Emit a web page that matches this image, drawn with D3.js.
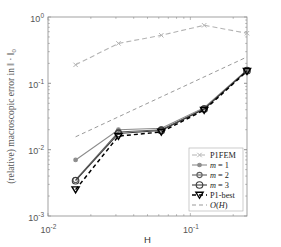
<!DOCTYPE html>
<html>
<head>
<meta charset="utf-8">
<script src="https://cdn.jsdelivr.net/npm/d3@7"></script>
<style>
  body { margin: 0; background: #fff; }
  svg { display: block; }
  .tick text { font-family: "Liberation Sans", Arial, sans-serif; }
</style>
</head>
<body>
<svg id="chart" width="281" height="247"></svg>
<script>
// mesh sizes
const H = [1 / 64, 1 / 32, 1 / 16, 1 / 8, 1 / 4];

// errors
const p1fem = [0.19, 0.40, 0.53, 0.75, 0.57];
const m1 = [0.0070, 0.0200, 0.0210, 0.0430, 0.160];
const m2 = [0.0035, 0.0185, 0.0200, 0.0415, 0.157];
const m3 = [0.0034, 0.0175, 0.0195, 0.0410, 0.155];
const p1best = [0.0025, 0.0160, 0.0185, 0.0395, 0.152];
const orderH = [1 / 64, 1 / 4];

const xTicks = [1e-2, 1e-1];
const yTicks = [1e-3, 1e-2, 1e-1, 1e0];

const series = [
  { name: 'P1FEM', tex: false, vals: p1fem, color: '#b3b3b3', dash: '5,3', width: 1.1, marker: 'x' },
  { name: 'm = 1', tex: true, vals: m1, color: '#8c8c8c', dash: null, width: 1.1, marker: 'circle', r: 1.8 },
  { name: 'm = 2', tex: true, vals: m2, color: '#5f5f5f', dash: null, width: 1.1, marker: 'circle', r: 2.6 },
  { name: 'm = 3', tex: true, vals: m3, color: '#3c3c3c', dash: null, width: 1.1, marker: 'circle', r: 3.3 },
  { name: 'P1-best', tex: false, vals: p1best, color: '#000', dash: '4,3', width: 1.5, marker: 'tri' }
];

const svg = d3.select('#chart');
const margin = { left: 48, right: 34, top: 17, bottom: 31 };
const w = 281 - margin.left - margin.right;
const h = 247 - margin.top - margin.bottom;

const x = d3.scaleLog().domain([0.01, 0.25]).range([0, w]);
const y = d3.scaleLog().domain([1e-3, 1]).range([h, 0]);

const g = svg.append('g').attr('transform', `translate(${margin.left},${margin.top})`);

// minor ticks, all four sides
const axisColor = '#8a8a8a';
const minorX = [];
for (let d = 0.01; d < 1; d *= 10) {
  for (let k = 1; k < 10; k++) {
    const v = d * k;
    if (v >= 0.01 && v <= 0.25) minorX.push(v);
  }
}
const minorY = [];
for (let d = 1e-3; d < 1; d *= 10) {
  for (let k = 1; k <= 10; k++) minorY.push(d * k);
}

function tickLine(sel, x1, y1, x2, y2) {
  sel.append('line').attr('x1', x1).attr('y1', y1).attr('x2', x2).attr('y2', y2)
    .attr('stroke', axisColor).attr('stroke-width', 0.6);
}

const ticks = g.append('g');
minorX.forEach(v => {
  const len = xTicks.includes(v) ? 3 : 1.8;
  tickLine(ticks, x(v), h, x(v), h - len);
  tickLine(ticks, x(v), 0, x(v), len);
});
minorY.forEach(v => {
  const major = yTicks.some(t => Math.abs(t - v) / t < 1e-9);
  const len = major ? 3 : 1.8;
  tickLine(ticks, 0, y(v), len, y(v));
  tickLine(ticks, w, y(v), w - len, y(v));
});

g.append('rect').attr('width', w).attr('height', h)
  .attr('fill', 'none').attr('stroke', axisColor).attr('stroke-width', 0.8);

// tick labels
const supLabel = (sel, v) => {
  const e = Math.round(Math.log10(v));
  sel.append('tspan').text('10');
  sel.append('tspan').attr('dy', -4).attr('font-size', 6.5).text(e);
};

const xAxis = g.append('g').attr('transform', `translate(0,${h})`)
  .call(d3.axisBottom(x).tickValues(xTicks).tickSize(0).tickFormat(''));
xAxis.select('.domain').remove();
xAxis.selectAll('.tick text').remove();
xAxis.selectAll('.tick').append('text')
  .attr('y', 17).attr('text-anchor', 'middle')
  .attr('fill', '#555').attr('font-size', 9)
  .each(function (d) { supLabel(d3.select(this), d); });

const yAxis = g.append('g')
  .call(d3.axisLeft(y).tickValues(yTicks).tickSize(0).tickFormat(''));
yAxis.select('.domain').remove();
yAxis.selectAll('.tick').append('text')
  .attr('x', -4).attr('y', 4).attr('text-anchor', 'end')
  .attr('fill', '#555').attr('font-size', 9)
  .each(function (d) { supLabel(d3.select(this), d); });

// axis titles
svg.append('text')
  .attr('x', margin.left + x(0.05)).attr('y', 243)
  .attr('text-anchor', 'middle').attr('font-family', 'Liberation Sans, Arial, sans-serif')
  .attr('font-size', 9.5).attr('fill', '#333').text('H');

const ylab = svg.append('text')
  .attr('transform', `translate(14,${margin.top + h / 2}) rotate(-90)`)
  .attr('text-anchor', 'middle').attr('font-family', 'Liberation Serif, Times New Roman, serif')
  .attr('font-size', 9.5).attr('fill', '#555');
ylab.append('tspan').text('(relative) macroscopic error in \u2016 \u00b7 \u2016');
ylab.append('tspan').attr('dy', 2).attr('font-size', 6.5).text('0');

// O(H) reference line
const line = d3.line().x(d => x(d[0])).y(d => y(d[1]));
g.append('path')
  .datum(orderH.map(v => [v, v]))
  .attr('d', line).attr('fill', 'none')
  .attr('stroke', '#555').attr('stroke-width', 0.6).attr('stroke-dasharray', '4,3');

function drawMarker(sel, s, cx, cy) {
  if (s.marker === 'x') {
    const a = 2.2;
    sel.append('path')
      .attr('d', `M${cx - a},${cy - a}L${cx + a},${cy + a}M${cx - a},${cy + a}L${cx + a},${cy - a}`)
      .attr('stroke', s.color).attr('stroke-width', 1);
  } else if (s.marker === 'circle') {
    sel.append('circle').attr('cx', cx).attr('cy', cy).attr('r', s.r)
      .attr('fill', s.r < 2 ? s.color : 'none').attr('stroke', s.color).attr('stroke-width', 1.1);
  } else {
    const a = 3.6;
    sel.append('path')
      .attr('d', `M${cx - a},${cy - a * 0.75}L${cx + a},${cy - a * 0.75}L${cx},${cy + a * 0.9}Z`)
      .attr('fill', 'none').attr('stroke', s.color).attr('stroke-width', 1.4);
  }
}

series.forEach(s => {
  const pts = H.map((v, i) => [v, s.vals[i]]);
  g.append('path').datum(pts).attr('d', line)
    .attr('fill', 'none').attr('stroke', s.color).attr('stroke-width', s.width)
    .attr('stroke-dasharray', s.dash);
  const mg = g.append('g');
  pts.forEach(p => drawMarker(mg, s, x(p[0]), y(p[1])));
});

// legend
const lg = svg.append('g').attr('transform', 'translate(189,148)');
lg.append('rect').attr('width', 54).attr('height', 63)
  .attr('fill', '#fff').attr('stroke', '#aaa').attr('stroke-width', 0.6);
const legendItems = series.concat([{ name: 'O(H)', tex: true, color: '#555', dash: '4,3', width: 0.6, marker: null }]);
legendItems.forEach((s, i) => {
  const yy = 7 + i * 10;
  const row = lg.append('g');
  row.append('line').attr('x1', 3).attr('x2', 18).attr('y1', yy).attr('y2', yy)
    .attr('stroke', s.color).attr('stroke-width', s.width).attr('stroke-dasharray', s.dash);
  if (s.marker) drawMarker(row, s, 10.5, yy);
  const t = row.append('text').attr('x', 21).attr('y', yy + 2.8)
    .attr('font-family', 'Liberation Serif, Times New Roman, serif')
    .attr('font-size', 8.3).attr('fill', '#222');
  if (s.name === 'O(H)') {
    t.append('tspan').attr('font-style', 'italic').text('O');
    t.append('tspan').text('(');
    t.append('tspan').attr('font-style', 'italic').text('H');
    t.append('tspan').text(')');
  } else if (s.tex) {
    t.append('tspan').attr('font-style', 'italic').text('m');
    t.append('tspan').text(s.name.slice(1));
  } else {
    t.text(s.name);
  }
});
</script>
</body>
</html>
